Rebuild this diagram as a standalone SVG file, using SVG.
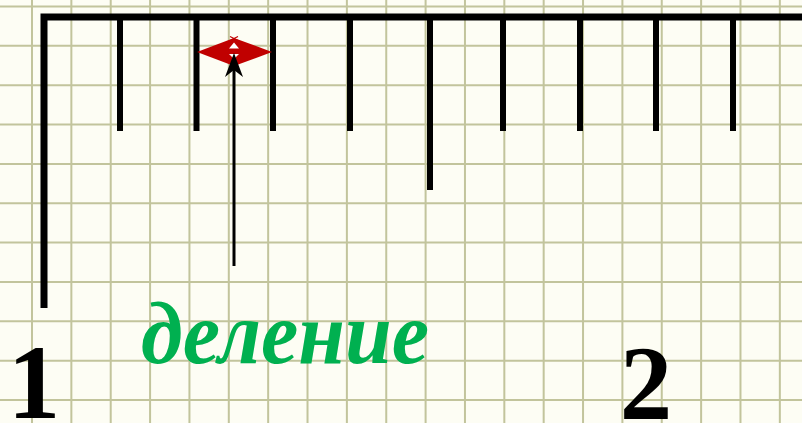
<svg xmlns="http://www.w3.org/2000/svg" width="802" height="423" viewBox="0 0 802 423">
  <style>
    .grid { stroke: #c2c49c; stroke-width: 2; fill: none; }
    .bar { stroke: #000; stroke-width: 7; fill: none; }
    .tick { stroke: #000; stroke-width: 6; fill: none; }
    .num { font-family: "Liberation Serif", "Times New Roman", serif; font-weight: bold; font-size: 105px; fill: #000; text-anchor: middle; }
    .lbl { font-family: "Liberation Serif", "Times New Roman", serif; font-weight: bold; font-style: italic; font-size: 89px; fill: #00b050; }
  </style>
  <rect x="0" y="0" width="802" height="423" fill="#fdfdf4"/>
  <g id="grid">
    <path class="grid" d="M32 0V423M71.36 0V423M110.72 0V423M150.08 0V423M189.44 0V423M228.8 0V423M268.16 0V423M307.52 0V423M346.88 0V423M386.24 0V423M425.6 0V423M464.96 0V423M504.32 0V423M543.68 0V423M583.04 0V423M622.4 0V423M661.76 0V423M701.12 0V423M740.48 0V423M779.84 0V423"/>
    <path class="grid" d="M0 6.5H802M0 45.85H802M0 85.2H802M0 124.55H802M0 163.9H802M0 203.25H802M0 242.6H802M0 281.95H802M0 321.3H802M0 360.65H802M0 400H802"/>
  </g>
  <g id="ruler">
    <path class="bar" d="M44 308V17H802"/>
    <path class="tick" d="M120 17V131M196.5 17V131M273 17V131M350 17V131M503 17V131M580 17V131M656 17V131M733 17V131"/>
    <path class="tick" d="M430 17V190"/>
  </g>
  <g id="num1"><text class="num" x="34" y="418">1</text></g>
  <g id="num2"><text class="num" x="646" y="419">2</text></g>
  <g id="label"><text class="lbl" x="141" y="363" textLength="288" lengthAdjust="spacingAndGlyphs">деление</text></g>
  <g id="division">
    <polygon points="197,52 234,38 272,52 234,66" fill="#c00000"/>
    <polygon points="229,48.5 234,42.5 239,48.5" fill="#fff"/>
    <polygon points="229,54 239,54 234,59" fill="#fff"/>
    <path d="M230 36.5L238 40.5M238 36.5L230 40.5" stroke="#c00000" stroke-width="1.2"/>
  </g>
  <g id="connectors">
    <line x1="234" y1="266" x2="234" y2="68" stroke="#000" stroke-width="3"/>
    <polygon points="234,53 243,77 234,70 225,77" fill="#000"/>
  </g>
</svg>
